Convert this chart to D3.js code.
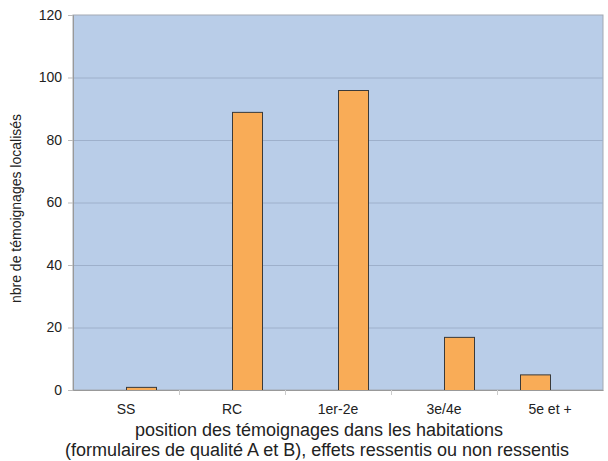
<!DOCTYPE html>
<html>
<head>
<meta charset="utf-8">
<title>Position des témoignages</title>
<script src="https://d3js.org/d3.v7.min.js"></script>
<style>
  body { margin: 0; background: #fff; }
  text { font-family: "Liberation Sans", Arial, sans-serif; fill: #222; }
</style>
</head>
<body>
<div id="chart"></div>
<script>
// categories and values (two series in the source sheet, the first one almost empty)
var categories = ["SS", "RC", "1er-2e", "3e/4e", "5e et +"];
var seriesA = [0, 0, 0, 0, 5];
var seriesB = [1, 89, 96, 17, 0];
var yTicks = [0, 20, 40, 60, 80, 100, 120];

var margin = { top: 15, right: 5, bottom: 71, left: 73 },
    width = 608 - margin.left - margin.right,
    height = 461 - margin.top - margin.bottom;

var svg = d3.select("#chart").append("svg")
    .attr("width", 608)
    .attr("height", 461)
    .append("g")
    .attr("transform", "translate(" + margin.left + "," + margin.top + ")");

var x = d3.scaleBand().domain(categories).range([0, width]);
var inner = d3.scaleBand().domain(["A", "B"]).range([0, 60]);
var y = d3.scaleLinear().domain([0, 120]).range([height, 0]);

// plot background
svg.append("rect")
    .attr("width", width)
    .attr("height", height)
    .attr("fill", "#b9cde8")
    .attr("stroke", "#a3a9b3")
    .attr("stroke-width", 1);

// grid lines
svg.selectAll(".grid")
    .data(yTicks.filter(function (d) { return d > 0 && d < 120; }))
    .enter().append("line")
    .attr("x1", 0)
    .attr("x2", width)
    .attr("y1", function (d) { return y(d) + 0.5; })
    .attr("y2", function (d) { return y(d) + 0.5; })
    .attr("stroke", "#9eb0cb")
    .attr("stroke-width", 1);

// bars
var rows = [];
categories.forEach(function (c, i) {
    rows.push({ cat: c, s: "A", v: seriesA[i] });
    rows.push({ cat: c, s: "B", v: seriesB[i] });
});
svg.selectAll(".bar")
    .data(rows.filter(function (d) { return d.v > 0; }))
    .enter().append("rect")
    .attr("x", function (d) { return x(d.cat) + x.bandwidth() / 2 - 30 + inner(d.s) + 0.5; })
    .attr("y", function (d) { return y(d.v) + 0.5; })
    .attr("width", inner.bandwidth())
    .attr("height", function (d) { return height - y(d.v); })
    .attr("fill", "#f9ac57")
    .attr("stroke", "#3a3a3a")
    .attr("stroke-width", 1);

// y axis
var yAxis = svg.append("g")
    .call(d3.axisLeft(y).tickValues(yTicks).tickSize(5).tickPadding(6));
yAxis.select(".domain").attr("stroke", "#999");
yAxis.selectAll(".tick line").attr("stroke", "#bbb");
yAxis.selectAll(".tick text")
    .style("font-size", "14px")
    .style("font-family", "Liberation Sans, Arial, sans-serif")
    .attr("fill", "#222");

// x axis
var xAxis = svg.append("g")
    .attr("transform", "translate(0," + height + ")")
    .call(d3.axisBottom(x).tickSize(0).tickPadding(14));
xAxis.select(".domain").attr("stroke", "#999");
xAxis.selectAll(".tick text")
    .style("font-size", "14px")
    .style("font-family", "Liberation Sans, Arial, sans-serif")
    .attr("fill", "#222");
// category separators
svg.selectAll(".sep")
    .data(categories.slice(1))
    .enter().append("line")
    .attr("x1", function (d) { return x(d) + 0.5; })
    .attr("x2", function (d) { return x(d) + 0.5; })
    .attr("y1", height)
    .attr("y2", height + 5)
    .attr("stroke", "#ccc");

// titles
svg.append("text")
    .attr("x", 246)
    .attr("y", height + 46)
    .attr("text-anchor", "middle")
    .style("font-size", "18px")
    .text("position des témoignages dans les habitations");
svg.append("text")
    .attr("x", 244)
    .attr("y", height + 66)
    .attr("text-anchor", "middle")
    .style("font-size", "18px")
    .text("(formulaires de qualité A et B), effets ressentis ou non ressentis");

svg.append("text")
    .attr("transform", "translate(" + (-52) + "," + (height / 2 + 6) + ") rotate(-90)")
    .attr("text-anchor", "middle")
    .style("font-size", "14px")
    .text("nbre de témoignages localisés");
</script>
</body>
</html>
